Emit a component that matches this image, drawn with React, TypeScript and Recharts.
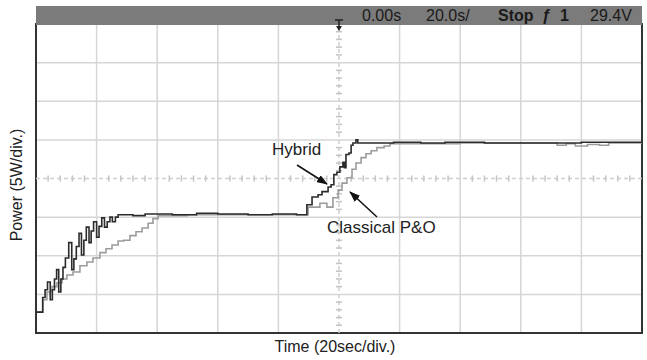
import React from "react";
import { LineChart, Line, XAxis, YAxis, CartesianGrid, ReferenceLine, ReferenceArea } from "recharts";

// grid divisions (20 s/div, 5 W/div); the centre lines are drawn separately
const timeGrid = [-80, -60, -40, -20, 20, 40, 60, 80];
const powerGrid = [5, 10, 15, 25, 30, 35];

// small ticks on the centre cross
const centreTimeTicks = [
  -96, -92, -88, -84, -76, -72, -68, -64, -56, -52, -48, -44, -36, -32, -28, -24, -16, -12, -8, -4,
  4, 8, 12, 16, 24, 28, 32, 36, 44, 48, 52, 56, 64, 68, 72, 76, 84, 88, 92, 96,
];
const centrePowerTicks = [
  1, 2, 3, 4, 6, 7, 8, 9, 11, 12, 13, 14, 16, 17, 18, 19, 21, 22, 23, 24, 26, 27, 28, 29, 31, 32, 33, 34, 36, 37, 38, 39,
];

// [time (s), power (W)] — held until the next point (step trace)
const hybridPoints: [number, number][] = [
  [-100, 2.7], [-97.8, 4.6], [-97.0, 5.6], [-96.2, 6.6], [-95.3, 4.3], [-94.6, 5.6], [-93.9, 7.0],
  [-93.2, 8.2], [-92.5, 5.3], [-91.8, 7.0], [-91.1, 8.5], [-90.3, 9.7], [-89.2, 11.7], [-88.2, 8.2],
  [-87.5, 9.6], [-86.7, 11.2], [-85.8, 12.9], [-85.0, 10.1], [-84.2, 12.0], [-83.4, 13.7], [-82.5, 11.7],
  [-81.8, 13.2], [-81.0, 14.4], [-80.0, 12.4], [-79.2, 13.8], [-78.3, 14.9], [-77.4, 13.7], [-76.5, 14.4],
  [-75.6, 15.0], [-74.8, 14.4], [-73.8, 15.0], [-72.9, 15.3], [-68, 15.2], [-64, 15.4], [-55, 15.3],
  [-47, 15.5], [-40, 15.4], [-30, 15.3], [-22, 15.4], [-14, 15.3], [-10.6, 16.6], [-8.9, 17.6],
  [-6.9, 17.9], [-5.6, 18.3], [-3.6, 18.9], [-2.6, 19.2], [-1.7, 20.5], [-0.7, 20.8], [0.3, 21.5],
  [1.3, 22.1], [1.8, 21.4], [2.3, 23.1], [3.3, 23.3], [4.0, 24.3], [4.6, 24.6], [5.6, 25.0], [6.2, 24.6],
  [18, 24.7], [27, 24.6], [35, 24.7], [48, 24.6], [62, 24.6], [80, 24.7], [100, 24.6],
];

const classicalPoints: [number, number][] = [
  [-100, 2.7], [-97.7, 4.3], [-96.4, 5.3], [-94.7, 6.0], [-93.1, 6.5], [-91.4, 7.0], [-89.8, 7.5],
  [-87.8, 7.9], [-85.5, 8.7], [-83.2, 9.2], [-81.2, 9.7], [-78.9, 10.4], [-76.9, 10.9], [-74.9, 11.4],
  [-72.9, 11.9], [-71.0, 12.0], [-69.0, 12.6], [-67.0, 13.1], [-65.0, 13.6], [-63.0, 14.2], [-61.4, 14.8],
  [-59.7, 15.2], [-50, 15.3], [-10.2, 16.3], [-6.3, 16.8], [-4.0, 16.3], [-2.0, 17.5], [-0.3, 18.5],
  [1.0, 19.4], [2.6, 20.1], [4.3, 21.2], [5.6, 22.0], [7.3, 22.7], [8.9, 23.2], [10.6, 23.6],
  [12.5, 24.0], [14.9, 24.2], [16.8, 24.5], [40, 24.6], [72, 24.3], [75, 24.5], [78, 24.2], [82, 24.4],
  [86, 24.3], [89, 24.6], [100, 24.6],
];

const hybridData = hybridPoints.map(([t, p]) => ({ t, p }));
const classicalData = classicalPoints.map(([t, p]) => ({ t, p }));

const font = "'Liberation Sans', Arial, sans-serif";

export default function App() {
  return (
    <div style={{ position: "absolute", left: 0, top: 0, width: 647, height: 360, background: "#fff", fontFamily: font }}>
      <LineChart width={647} height={360} margin={{ top: 24, right: 5, bottom: 27, left: 36 }}>
        <CartesianGrid stroke="#d6d6d6" strokeWidth={1.5} />
        <XAxis type="number" dataKey="t" domain={[-100, 100]} ticks={timeGrid} hide allowDataOverflow />
        <YAxis type="number" domain={[0, 40]} ticks={powerGrid} hide allowDataOverflow />
        <ReferenceLine x={0} stroke="#cfcfcf" strokeWidth={1.5} strokeDasharray="4 3" />
        <ReferenceLine y={20} stroke="#cfcfcf" strokeWidth={1.5} strokeDasharray="4 3" />
        {centreTimeTicks.map((t) => (
          <ReferenceLine key={"tt" + t} segment={[{ x: t, y: 19.6 }, { x: t, y: 20.4 }]} stroke="#c4c4c4" strokeWidth={1.5} />
        ))}
        {centrePowerTicks.map((p) => (
          <ReferenceLine key={"pt" + p} segment={[{ x: -1, y: p }, { x: 1, y: p }]} stroke="#c4c4c4" strokeWidth={1.5} />
        ))}
        <ReferenceArea x1={-100} x2={100} y1={0} y2={40} fill="none" fillOpacity={0} stroke="#333" strokeWidth={2} />
        <Line data={classicalData} dataKey="p" type="stepAfter" stroke="#9c9c9c" strokeWidth={1.6} dot={false} isAnimationActive={false} />
        <Line data={hybridData} dataKey="p" type="stepAfter" stroke="#2b2b2b" strokeWidth={1.6} dot={false} isAnimationActive={false} />
      </LineChart>

      {/* scope status bar */}
      <div style={{ position: "absolute", left: 36, top: 6, width: 606, height: 19, background: "#7b7b7b", color: "#1a1a1a", fontSize: 16 }}>
        <span style={{ position: "absolute", left: 326, top: 1 }}>0.00s</span>
        <span style={{ position: "absolute", left: 390, top: 1 }}>20.0s/</span>
        <span style={{ position: "absolute", left: 462, top: 1, fontWeight: "bold" }}>Stop</span>
        <span style={{ position: "absolute", left: 506, top: 1, fontWeight: "bold" }}>ƒ</span>
        <span style={{ position: "absolute", left: 524, top: 1, fontWeight: "bold" }}>1</span>
        <span style={{ position: "absolute", left: 554, top: 1 }}>29.4V</span>
      </div>

      <svg width={647} height={360} style={{ position: "absolute", left: 0, top: 0, pointerEvents: "none" }}>
        <defs>
          <marker id="ah" markerWidth={11} markerHeight={8} refX={10} refY={4} orient="auto" markerUnits="userSpaceOnUse">
            <path d="M0,0 L11,4 L0,8 z" fill="#111" />
          </marker>
        </defs>
        <path d="M335 20 H343 M339 20 V29" stroke="#222" strokeWidth={1.5} fill="none" />
        <path d="M336 26 L339 31 L342 26 z" fill="#222" />
        <line x1={297} y1={165} x2={327} y2={184} stroke="#111" strokeWidth={1.5} markerEnd="url(#ah)" />
        <line x1={377} y1={217} x2={350} y2={192} stroke="#111" strokeWidth={1.5} markerEnd="url(#ah)" />
      </svg>

      <div style={{ position: "absolute", left: 272, top: 141, fontSize: 17, lineHeight: 1, color: "#222" }}>Hybrid</div>
      <div style={{ position: "absolute", left: 327, top: 219, fontSize: 17, lineHeight: 1, color: "#222" }}>Classical P&amp;O</div>

      <div style={{ position: "absolute", left: -83, top: 177, width: 200, textAlign: "center", fontSize: 16, lineHeight: 1, color: "#222", transform: "rotate(-90deg)" }}>
        Power (5W/div.)
      </div>
      <div style={{ position: "absolute", left: 235, top: 339, width: 200, textAlign: "center", fontSize: 16, lineHeight: 1, color: "#222" }}>
        Time (20sec/div.)
      </div>
    </div>
  );
}
